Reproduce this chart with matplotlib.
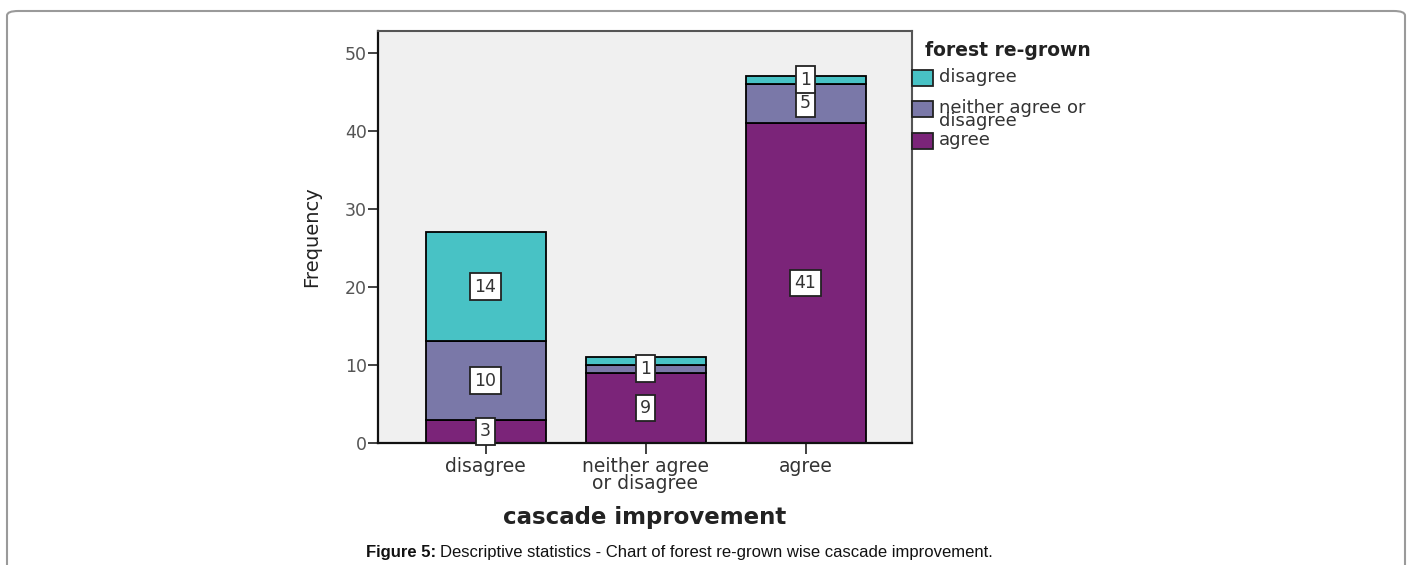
import matplotlib
matplotlib.use("Agg")
import matplotlib.pyplot as plt
from matplotlib.patches import Rectangle, FancyBboxPatch
import numpy as np

# ---- data ----
categories = ["disagree", "neither agree\nor disagree", "agree"]
series_names = ["agree", "neither agree or\ndisagree", "disagree"]   # bottom -> top
agree_vals = [3, 9, 41]
neither_vals = [10, 1, 5]
disagree_vals = [14, 1, 1]
yticks = [0, 10, 20, 30, 40, 50]

colors = {"agree": "#7B2479", "neither": "#7A78A8", "disagree": "#48C2C5"}

W, H = 1413, 565
fig = plt.figure(figsize=(W / 100, H / 100), dpi=100)
fig.patch.set_facecolor("white")

def fx(px):
    return px / W

def fy(py):
    return 1 - py / H

# axes placement
L, R, T, B = 378, 912, 31, 443
C0, STEP, PXU = 485.5, 160.0, 7.81
ax = fig.add_axes([fx(L), fy(B), fx(R) - fx(L), fy(T) - fy(B)])
ax.set_facecolor("#F0F0F0")

x = np.arange(len(categories))
bw = 0.75
stack = [("agree", agree_vals), ("neither", neither_vals), ("disagree", disagree_vals)]
bottom = np.zeros(len(categories))
for key, vals in stack:
    vals = np.array(vals, dtype=float)
    ax.bar(x, vals, bw, bottom=bottom, color=colors[key], edgecolor="black",
           linewidth=1.3, zorder=2)
    bottom += vals

# value labels (hide overlapping ones)
for i in range(len(categories)):
    base = 0.0
    last_shown = None
    for key, vals in stack:
        v = vals[i]
        mid = base + v / 2
        if last_shown is None or mid - last_shown >= 2.5:
            ax.text(x[i], mid, str(v), ha="center", va="center", fontsize=12.5,
                    color="#333333", zorder=5,
                    bbox=dict(boxstyle="square,pad=0.25", fc="white",
                              ec="#222222", lw=1.3))
            last_shown = mid
        base += v

ax.set_xlim(-(C0 - L) / STEP, (R - C0) / STEP)
ax.set_ylim(0, (B - T) / PXU)
ax.set_yticks(yticks)
ax.set_xticks(x)
ax.set_xticklabels(categories, fontsize=13.5, color="#333333", linespacing=0.9)
ax.tick_params(axis="y", labelsize=12.5, labelcolor="#555555", length=7,
               width=1.3, direction="out", color="#333333", pad=1)
ax.tick_params(axis="x", length=8, width=1.3, direction="out",
               color="#333333", pad=2)

for s in ["top", "right"]:
    ax.spines[s].set_color("#555555")
    ax.spines[s].set_linewidth(1.5)
for s in ["left", "bottom"]:
    ax.spines[s].set_color("#111111")
    ax.spines[s].set_linewidth(1.6)

ax.set_xlabel("cascade improvement", fontsize=16.5, fontweight="bold",
              color="#222222", labelpad=9)
ax.set_ylabel("Frequency", fontsize=14, color="#222222", labelpad=17)

# legend (manual, SPSS style)
fig.text(fx(925), fy(56), "forest re-grown", fontsize=13.5, fontweight="bold",
         color="#222222", va="baseline", ha="left")
legend_items = [("disagree", "disagree", 70, 0.7), ("neither", series_names[1], 101, 0.66),
                ("agree", "agree", 133, 0.7)]
for key, label, top, ls in legend_items:
    fig.add_artist(Rectangle((fx(912), fy(top + 16)), fx(21), 16 / H,
                             transform=fig.transFigure, fc=colors[key],
                             ec="#222222", lw=1.3))
    fig.text(fx(939), fy(top - 2), label, fontsize=13, color="#333333",
             va="top", ha="left", linespacing=ls)

# caption
cap1 = fig.text(fx(366), fy(552), "Figure 5:", fontsize=12, fontweight="bold",
                family="Liberation Sans", va="center", ha="left", color="#111111")
renderer = fig.canvas.get_renderer()
bb = cap1.get_window_extent(renderer=renderer)
fig.text(bb.x1 / W + fx(4), fy(552),
         "Descriptive statistics - Chart of forest re-grown wise cascade improvement.",
         fontsize=12, family="Liberation Sans", va="center", ha="left",
         color="#111111")

# outer rounded border
fig.add_artist(FancyBboxPatch((fx(7), fy(600)), fx(1398), 589 / H,
                              boxstyle="round,pad=0,rounding_size=0.008",
                              transform=fig.transFigure, fc="none",
                              ec="#9A9A9A", lw=1.5, clip_on=False))

fig.savefig("out.png", dpi=100)
